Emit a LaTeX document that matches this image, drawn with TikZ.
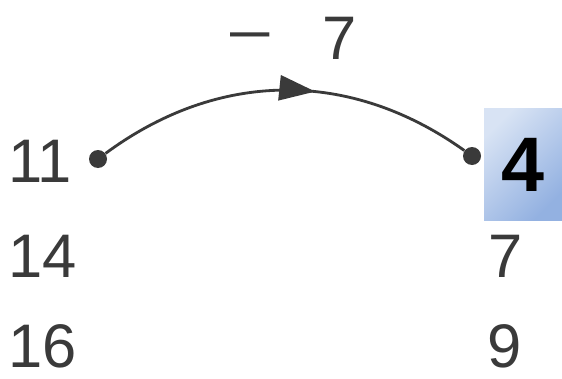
\documentclass[tikz,border=0pt]{standalone}
\usepackage{fontspec}
\setmainfont{Liberation Sans}
\usetikzlibrary{arrows.meta,positioning,decorations.markings}
\definecolor{Tinta}{HTML}{3A3A3A}
\definecolor{AzulClaro}{HTML}{D8E3F4}
\definecolor{AzulMedio}{HTML}{93B1E1}

\begin{document}
\begin{tikzpicture}[
  num/.style={font=\fontsize{35}{40}\selectfont,text=Tinta,inner sep=0pt},
  dot/.style={circle,fill=Tinta,inner sep=0pt,minimum size=0.36cm},
  salto/.style={line width=1.6pt,Tinta,postaction={decorate},
    decoration={markings,mark=at position 0.58 with
      {\arrow{Triangle[length=0.72cm,width=0.5cm]}}}}
]
  \useasboundingbox[fill=white] (0,0) rectangle (11.24,7.56);

  % Columna de la izquierda.
  \node[num,anchor=base west] (n11) at (0.16,3.92) {11};
  \node[num,anchor=base west] (n14) at (0.16,2.02) {14};
  \node[num,anchor=base west] (n16) at (0.16,0.22) {16};

  % Columna de la derecha.
  \node[minimum width=1.56cm,minimum height=2.22cm,inner sep=0pt,
    top color=AzulClaro,bottom color=AzulMedio,shading angle=45,
    font=\bfseries\fontsize{44}{50}\selectfont] (cuatro) at (10.46,4.27) {4};
  \node[num,anchor=base] (n7) at (10.11,2.02) {7};
  \node[num,anchor=base] (n9) at (10.10,0.22) {9};

  % Salto de 11 a 4.
  \node[dot] (desde) at (1.96,4.38) {};
  \node[dot] (hasta) at (9.44,4.44) {};
  \draw[salto] (desde) to[bend left=36] (hasta);
  \node[num,anchor=base west] (resta) at (4.60,6.36)
    {\raisebox{5.5pt}{\scalebox{1.15}[1]{–}}\hspace{1.05cm}7};
\end{tikzpicture}
\end{document}
